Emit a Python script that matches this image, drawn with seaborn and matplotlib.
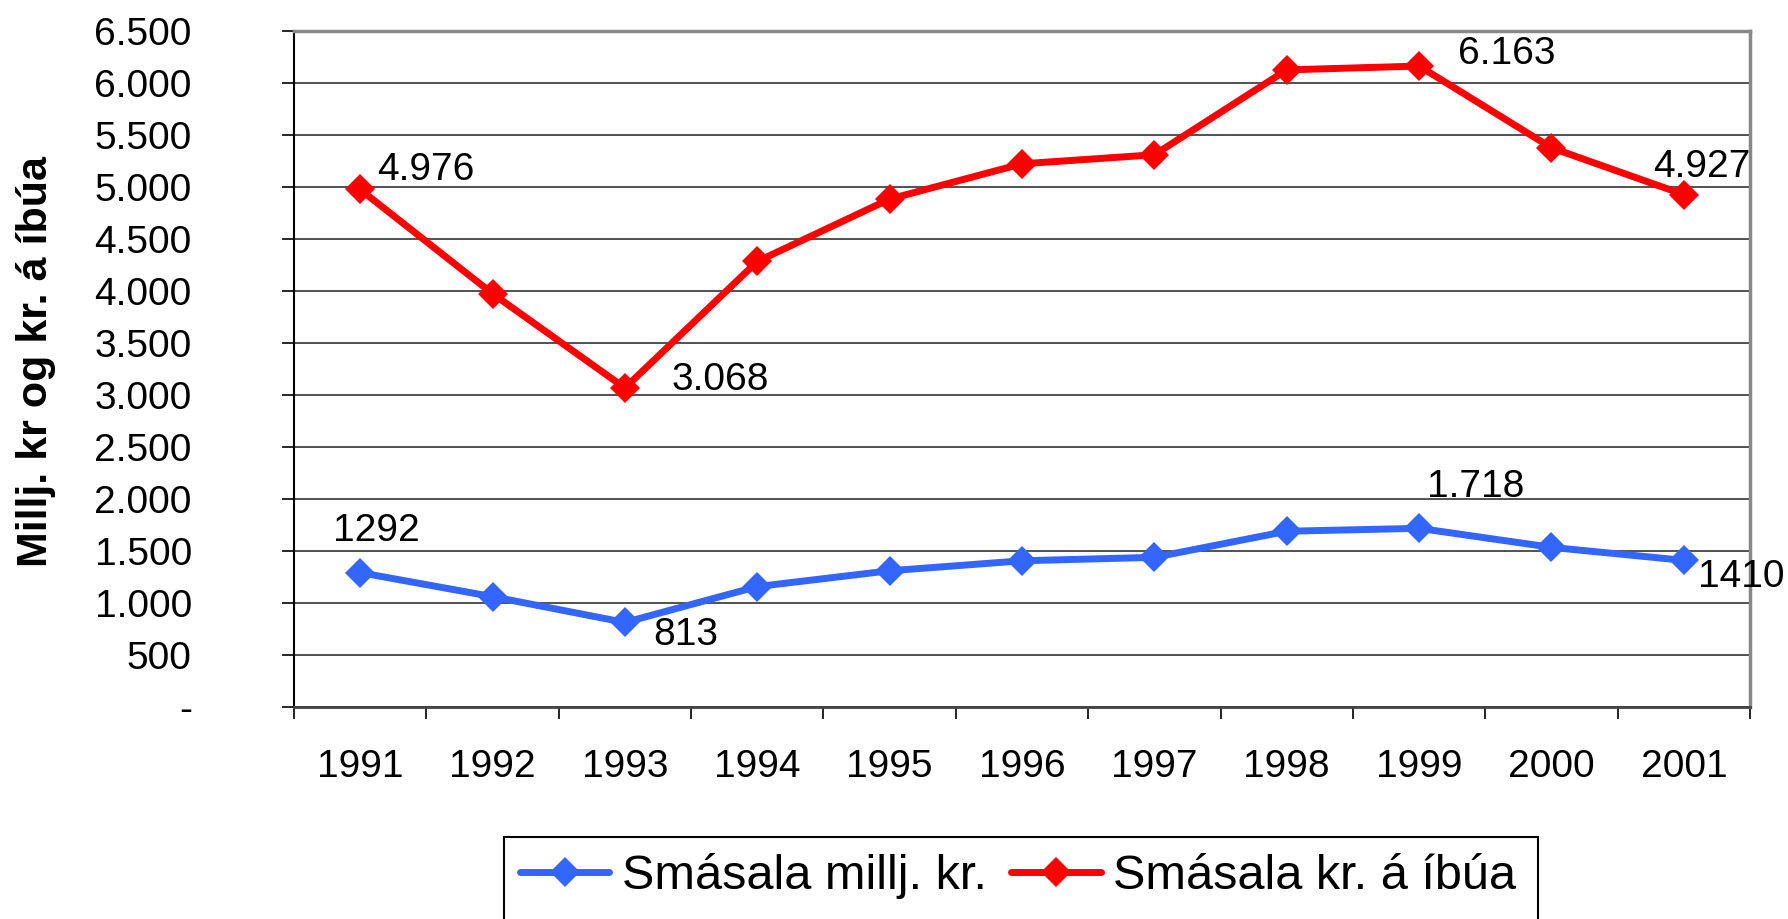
import numpy as np
import pandas as pd
import matplotlib
matplotlib.use('Agg')
import matplotlib.pyplot as plt
from matplotlib.lines import Line2D
from matplotlib.patches import Rectangle
from matplotlib.ticker import FuncFormatter, MultipleLocator
import seaborn as sns

sns.set_style('white')
plt.rcParams['font.family'] = ['Liberation Sans', 'DejaVu Sans']
plt.rcParams['text.color'] = 'black'
plt.rcParams['xtick.color'] = 'black'
plt.rcParams['ytick.color'] = 'black'

# data
years = ['1991', '1992', '1993', '1994', '1995', '1996', '1997', '1998', '1999', '2000', '2001']
smasala_millj = [1292, 1061, 813, 1158, 1310, 1406, 1439, 1690, 1718, 1535, 1410]
smasala_ibua = [4976, 3974, 3068, 4284, 4884, 5223, 5310, 6126, 6163, 5377, 4927]
series_names = ['Smásala millj. kr.', 'Smásala kr. á íbúa']

# data labels as printed in the original (index -> text)
labels_millj = {0: '1292', 2: '813', 8: '1.718', 10: '1410'}
labels_ibua = {0: '4.976', 2: '3.068', 8: '6.163', 10: '4.927'}

blue = '#3366FF'
red = '#FF0000'

df = pd.DataFrame({
    'pos': list(range(len(years))) * 2,
    'value': smasala_millj + smasala_ibua,
    'series': [series_names[0]] * len(years) + [series_names[1]] * len(years),
})

fig = plt.figure(figsize=(17.88, 9.19), dpi=100)
ax = fig.add_axes([294 / 1788, 1 - 707 / 919, (1750 - 294) / 1788, (707 - 31) / 919])

sns.lineplot(data=df, x='pos', y='value', hue='series', style='series',
             palette=[blue, red], markers=['D', 'D'], dashes=False,
             markersize=15.5, linewidth=5, markeredgewidth=0,
             legend=False, ax=ax)

# axes
ax.set_xlim(-0.5, len(years) - 0.5)
ax.set_ylim(0, 6500)
ax.yaxis.set_major_locator(MultipleLocator(500))
ax.yaxis.set_major_formatter(FuncFormatter(
    lambda v, p: '-' if v == 0 else f'{v:,.0f}'.replace(',', '.')))
ax.set_xticks(range(len(years)))
ax.set_xticklabels(years)
ax.set_xticks(np.arange(-0.5, len(years)), minor=True)
ax.set_xlabel('')
ax.set_ylabel('')

ax.tick_params(axis='y', which='major', left=True, length=8.6, width=1.2,
               color='black', pad=65, labelsize=28)
ax.tick_params(axis='x', which='major', bottom=False, length=0, pad=30, labelsize=28)
ax.tick_params(axis='x', which='minor', bottom=True, length=8.6, width=1.2, color='black')

ax.grid(axis='y', color='#333333', linewidth=1.2)
ax.grid(axis='x', visible=False)
ax.set_axisbelow(True)

ax.spines['left'].set_color('black')
ax.spines['left'].set_linewidth(1.5)
ax.spines['bottom'].set_color('#444444')
ax.spines['bottom'].set_linewidth(2)
for s in ['top', 'right']:
    ax.spines[s].set_color('#888888')
    ax.spines[s].set_linewidth(2.5)

# data labels
offsets_millj = {0: (12, 30), 2: (44, -9), 8: (41, 30), 10: (41, -12)}
offsets_ibua = {0: (47, 14), 2: (69, 6), 8: (63, 9), 10: (13, 20)}
for vals, labs, offs in [(smasala_millj, labels_millj, offsets_millj),
                         (smasala_ibua, labels_ibua, offsets_ibua)]:
    for i, txt in labs.items():
        ax.annotate(txt, (i, vals[i]), xytext=offs[i], textcoords='offset points',
                    ha='center', va='center', fontsize=28, annotation_clip=False)

fig.text(36 / 1788, 1 - 362 / 919, 'Millj. kr og kr. á íbúa', rotation=90,
         ha='center', va='center', fontsize=31, fontweight='bold')

# legend: frame drawn separately so it runs off the bottom edge like the original
fig.patches.append(Rectangle((504 / 1788, -0.05), (1538 - 504) / 1788, 0.05 + (919 - 837) / 919,
                             transform=fig.transFigure, fill=False,
                             edgecolor='black', linewidth=1.5))
handles = [Line2D([], [], color=blue, lw=5, marker='D', markersize=15, markeredgewidth=0),
           Line2D([], [], color=red, lw=5, marker='D', markersize=15, markeredgewidth=0)]
leg = fig.legend(handles, series_names, loc='upper left',
                 bbox_to_anchor=(504 / 1788, 1 - 837 / 919), ncol=2,
                 fontsize=35, frameon=False,
                 borderaxespad=0, borderpad=0.32, handlelength=1.85,
                 handletextpad=0.25, columnspacing=0.5)

fig.savefig('out.png', dpi=100)
